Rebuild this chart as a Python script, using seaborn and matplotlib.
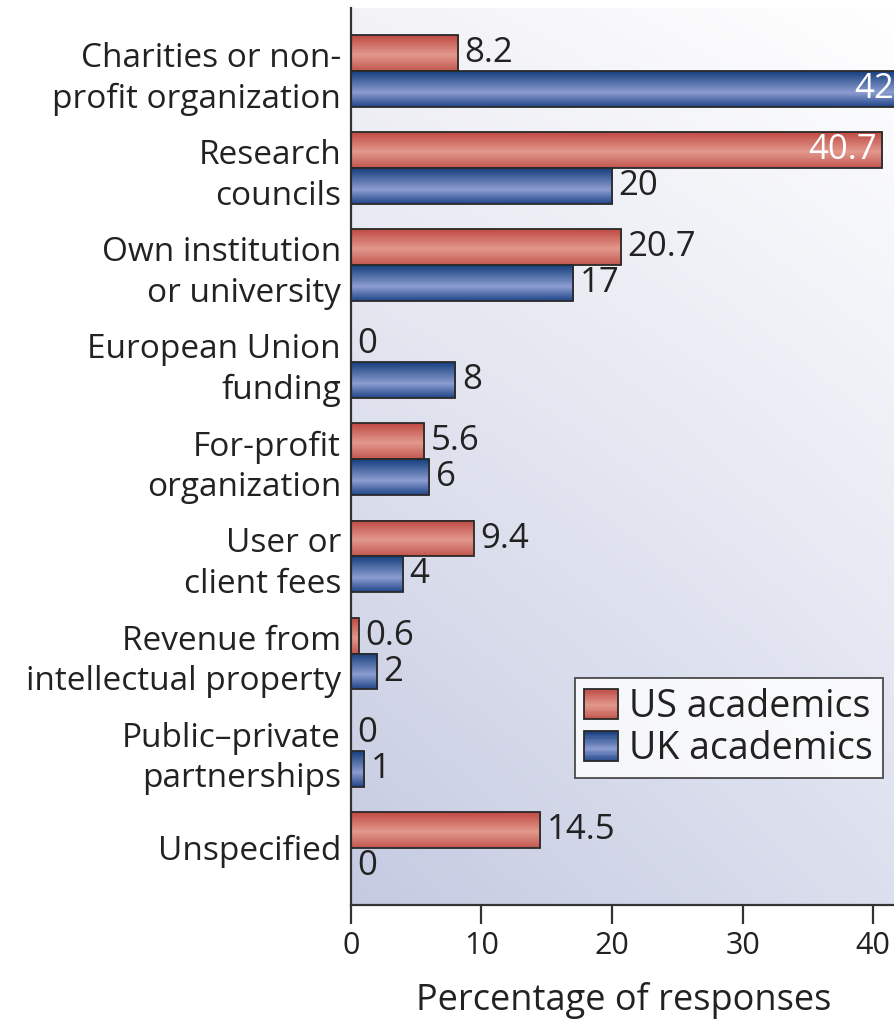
import numpy as np
import pandas as pd
import matplotlib
matplotlib.use('Agg')
import matplotlib.pyplot as plt
import seaborn as sns
from matplotlib.colors import LinearSegmentedColormap, to_rgb
from matplotlib.patches import Rectangle
from matplotlib.legend_handler import HandlerBase

# data
categories = ['Charities or non-\nprofit organization', 'Research\ncouncils',
              'Own institution\nor university', 'European Union\nfunding',
              'For-profit\norganization', 'User or\nclient fees',
              'Revenue from\nintellectual property', 'Public\u2013private\npartnerships',
              'Unspecified']
us_vals = [8.2, 40.7, 20.7, 0, 5.6, 9.4, 0.6, 0, 14.5]
uk_vals = [42, 20, 17, 8, 6, 4, 2, 1, 0]
groups = ['US academics', 'UK academics']

df = pd.DataFrame({'cat': categories * 2,
                   'val': us_vals + uk_vals,
                   'grp': [groups[0]] * len(categories) + [groups[1]] * len(categories)})

sns.set_style('white')
plt.rcParams['font.family'] = ['Open Sans', 'DejaVu Sans']

# vertical shading of the bars (top -> bottom)
red_cm = LinearSegmentedColormap.from_list('r', [(0, '#bf4a43'), (0.55, '#e3998e'), (1, '#c2574f')])
blue_cm = LinearSegmentedColormap.from_list('b', [(0, '#163f7e'), (0.6, '#8c9dd1'), (1, '#214689')])
cmaps = [red_cm, blue_cm]

fig = plt.figure(figsize=(8.95, 10.22), dpi=100)
ax = fig.add_axes([0.392, 0.1145, 0.61, 0.8777])

sns.barplot(data=df, x='val', y='cat', hue='grp', orient='h', width=0.74,
            palette=['#d77a72', '#4a64a8'], ax=ax, legend=False)

# background gradient, white top-right to blue-grey bottom-left
tl, tr = np.array(to_rgb('#f3f3f7')), np.array(to_rgb('#ffffff'))
bl, br = np.array(to_rgb('#c4cae1')), np.array(to_rgb('#dce0ee'))
xx, yy = np.meshgrid(np.linspace(0, 1, 200), np.linspace(0, 1, 200))
xx, yy = xx[..., None], yy[..., None]
bg = (1 - xx) * (1 - yy) * bl + xx * (1 - yy) * br + (1 - xx) * yy * tl + xx * yy * tr
ax.imshow(bg, extent=(0, 1, 0, 1), origin='lower', transform=ax.transAxes,
          aspect='auto', zorder=0, interpolation='bilinear')

grad = np.linspace(0, 1, 64)[:, None]
for cont, cm, vals in zip(ax.containers, cmaps, [us_vals, uk_vals]):
    for bar, v in zip(cont, vals):
        x0, y0, w, h = bar.get_x(), bar.get_y(), bar.get_width(), bar.get_height()
        if v == 0:
            bar.set_visible(False)
        else:
            ax.imshow(grad, cmap=cm, extent=(x0, x0 + w, y0, y0 + h), origin='lower',
                      aspect='auto', zorder=2, interpolation='bilinear')
            bar.set_facecolor('none')
            bar.set_edgecolor('#2a2a2a')
            bar.set_linewidth(1.3)
            bar.set_zorder(3)
        yc = y0 + h / 2
        lab = f'{v:g}'
        if v > 35:
            ax.text(x0 + w - 0.4, yc, lab, color='white', fontsize=25,
                    ha='right', va='center', zorder=4)
        else:
            ax.text(x0 + w + 0.5, yc, lab, color='#222222', fontsize=25,
                    ha='left', va='center', zorder=4)

ax.set_xlim(0, 41.8)
ax.set_ylim(8.59, -0.65)
ax.set_xticks([0, 10, 20, 30, 40])
ax.set_yticks(range(len(categories)))
ax.set_yticklabels(categories, fontsize=24, linespacing=1.3, color='#222222')
ax.tick_params(axis='y', length=0, pad=7)
ax.tick_params(axis='x', bottom=True, length=14, width=1.6, color='#333333',
               labelsize=22, labelcolor='#222222', pad=5)
ax.set_xlabel('Percentage of responses', fontsize=26, color='#222222', labelpad=15)
ax.set_ylabel('')
for s in ['top', 'right']:
    ax.spines[s].set_visible(False)
for s in ['left', 'bottom']:
    ax.spines[s].set_color('#333333')
    ax.spines[s].set_linewidth(1.6)


class GradHandler(HandlerBase):
    def __init__(self, cm):
        super().__init__()
        self.cm = cm

    def create_artists(self, legend, orig_handle, xdescent, ydescent, width,
                       height, fontsize, trans):
        arts = []
        n = 24
        for i in range(n):
            c = self.cm(1 - (i + 0.5) / n)
            arts.append(Rectangle((-xdescent, -ydescent + height * i / n), width,
                                  height / n, facecolor=c, edgecolor='none',
                                  transform=trans))
        arts.append(Rectangle((-xdescent, -ydescent), width, height, facecolor='none',
                              edgecolor='#2a2a2a', lw=1.3, transform=trans))
        return arts


handles = [Rectangle((0, 0), 1, 1), Rectangle((0, 0), 1, 1)]
leg = ax.legend(handles, groups, loc='lower right', bbox_to_anchor=(0.974, 0.142),
                borderaxespad=0, fontsize=27, frameon=True, fancybox=False,
                handlelength=0.9, handleheight=0.85, handletextpad=0.3,
                labelspacing=0.12, borderpad=0.25,
                handler_map={handles[0]: GradHandler(red_cm), handles[1]: GradHandler(blue_cm)})
leg.get_frame().set_edgecolor('#222222')
leg.get_frame().set_linewidth(1.3)
leg.get_frame().set_facecolor('white')
leg.set_zorder(5)
for t in leg.get_texts():
    t.set_color('#222222')

fig.savefig('out.png', dpi=100)
